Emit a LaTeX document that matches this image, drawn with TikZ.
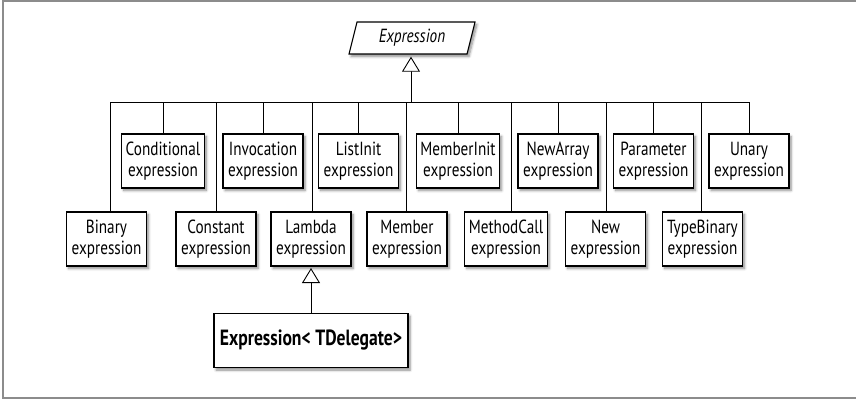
\documentclass[tikz,border=0pt]{standalone}
\usepackage{fontspec}
\setmainfont{PT Sans}[FakeStretch=0.8]
\usetikzlibrary{arrows.meta,shadows.blur,calc}

\begin{document}
\begin{tikzpicture}[x=1pt,y=-1pt,
  softshadow/.style={blur shadow={shadow xshift=2pt, shadow yshift=-2.5pt,
      shadow blur radius=2.5pt, shadow blur steps=6, shadow opacity=45}},
  cls/.style={draw, line width=1.1pt, fill=white, align=center,
      minimum height=54pt, minimum width=80pt, inner xsep=4pt, inner ysep=0pt,
      font=\fontsize{19}{21}\selectfont, softshadow},
  link/.style={line width=0.9pt},
  inherit/.style={line width=0.9pt,
      -{Triangle[open, width=18pt, length=15pt, fill=white, line width=0.9pt]}}]

\useasboundingbox (0,0) rectangle (856,399);

% outer frame
\draw[black!45, line width=1.6pt] (856,1) -- (3,1) -- (3,398) -- (856,398);

% abstract base class
\coordinate (ec) at (412,38);
\draw[line width=1.1pt, fill=white, softshadow]
  ($(ec)+(-55,-16)$) -- ($(ec)+(63,-16)$) -- ($(ec)+(55,16)$) -- ($(ec)+(-63,16)$) -- cycle;
\node[font=\fontsize{19}{21}\selectfont\itshape, minimum height=32pt, inner sep=0pt]
  (expr) at (ec) {Expression};

% upper row
\node[cls] (cond)  at (163,161) {Conditional\\expression};
\node[cls] (inv)   at (263,161) {Invocation\\expression};
\node[cls] (list)  at (358.5,161) {ListInit\\expression};
\node[cls] (minit) at (458,161) {MemberInit\\expression};
\node[cls] (narr)  at (558,161) {NewArray\\expression};
\node[cls] (param) at (653.5,161) {Parameter\\expression};
\node[cls] (unary) at (749,161) {Unary\\expression};

% lower row
\node[cls] (bin)   at (106.5,239) {Binary\\expression};
\node[cls] (const) at (216,239) {Constant\\expression};
\node[cls] (lam)   at (311,239) {Lambda\\expression};
\node[cls] (mem)   at (407,239) {Member\\expression};
\node[cls] (mcall) at (506,239) {MethodCall\\expression};
\node[cls] (new)   at (605.5,239) {New\\expression};
\node[cls] (tbin)  at (702.5,239) {TypeBinary\\expression};

% generic subclass
\node[cls, minimum width=194pt, font=\fontsize{22}{24}\selectfont\bfseries]
  (tdel) at (311,340.5) {Expression< TDelegate>};

% inheritance bus
\coordinate (busL) at (110,102);
\coordinate (busR) at (749,102);
\coordinate (hub)  at (411,102);
\draw[link] (busL) -- (busR);
\draw[inherit, shorten >=2.5pt] (hub) -- (hub |- expr.south);

% drops to the upper row
\foreach \n in {cond,inv,list,minit,narr,param,unary}
  \draw[link] (\n.north |- busL) -- (\n.north);

% drops to the lower row
\coordinate (dbin)   at (110,102);
\coordinate (dconst) at (216,102);
\coordinate (dlam)   at (312,102);
\coordinate (dmem)   at (406,102);
\coordinate (dmcall) at (511,102);
\coordinate (dnew)   at (606,102);
\coordinate (dtbin)  at (701,102);
\draw[link] (dbin)   -- (dbin   |- bin.north);
\draw[link] (dconst) -- (dconst |- const.north);
\draw[link] (dlam)   -- (dlam   |- lam.north);
\draw[link] (dmem)   -- (dmem   |- mem.north);
\draw[link] (dmcall) -- (dmcall |- mcall.north);
\draw[link] (dnew)   -- (dnew   |- new.north);
\draw[link] (dtbin)  -- (dtbin  |- tbin.north);

% generic class derives from Lambda
\draw[inherit, shorten >=1.5pt] (tdel.north) -- (lam.south);
\end{tikzpicture}
\end{document}
